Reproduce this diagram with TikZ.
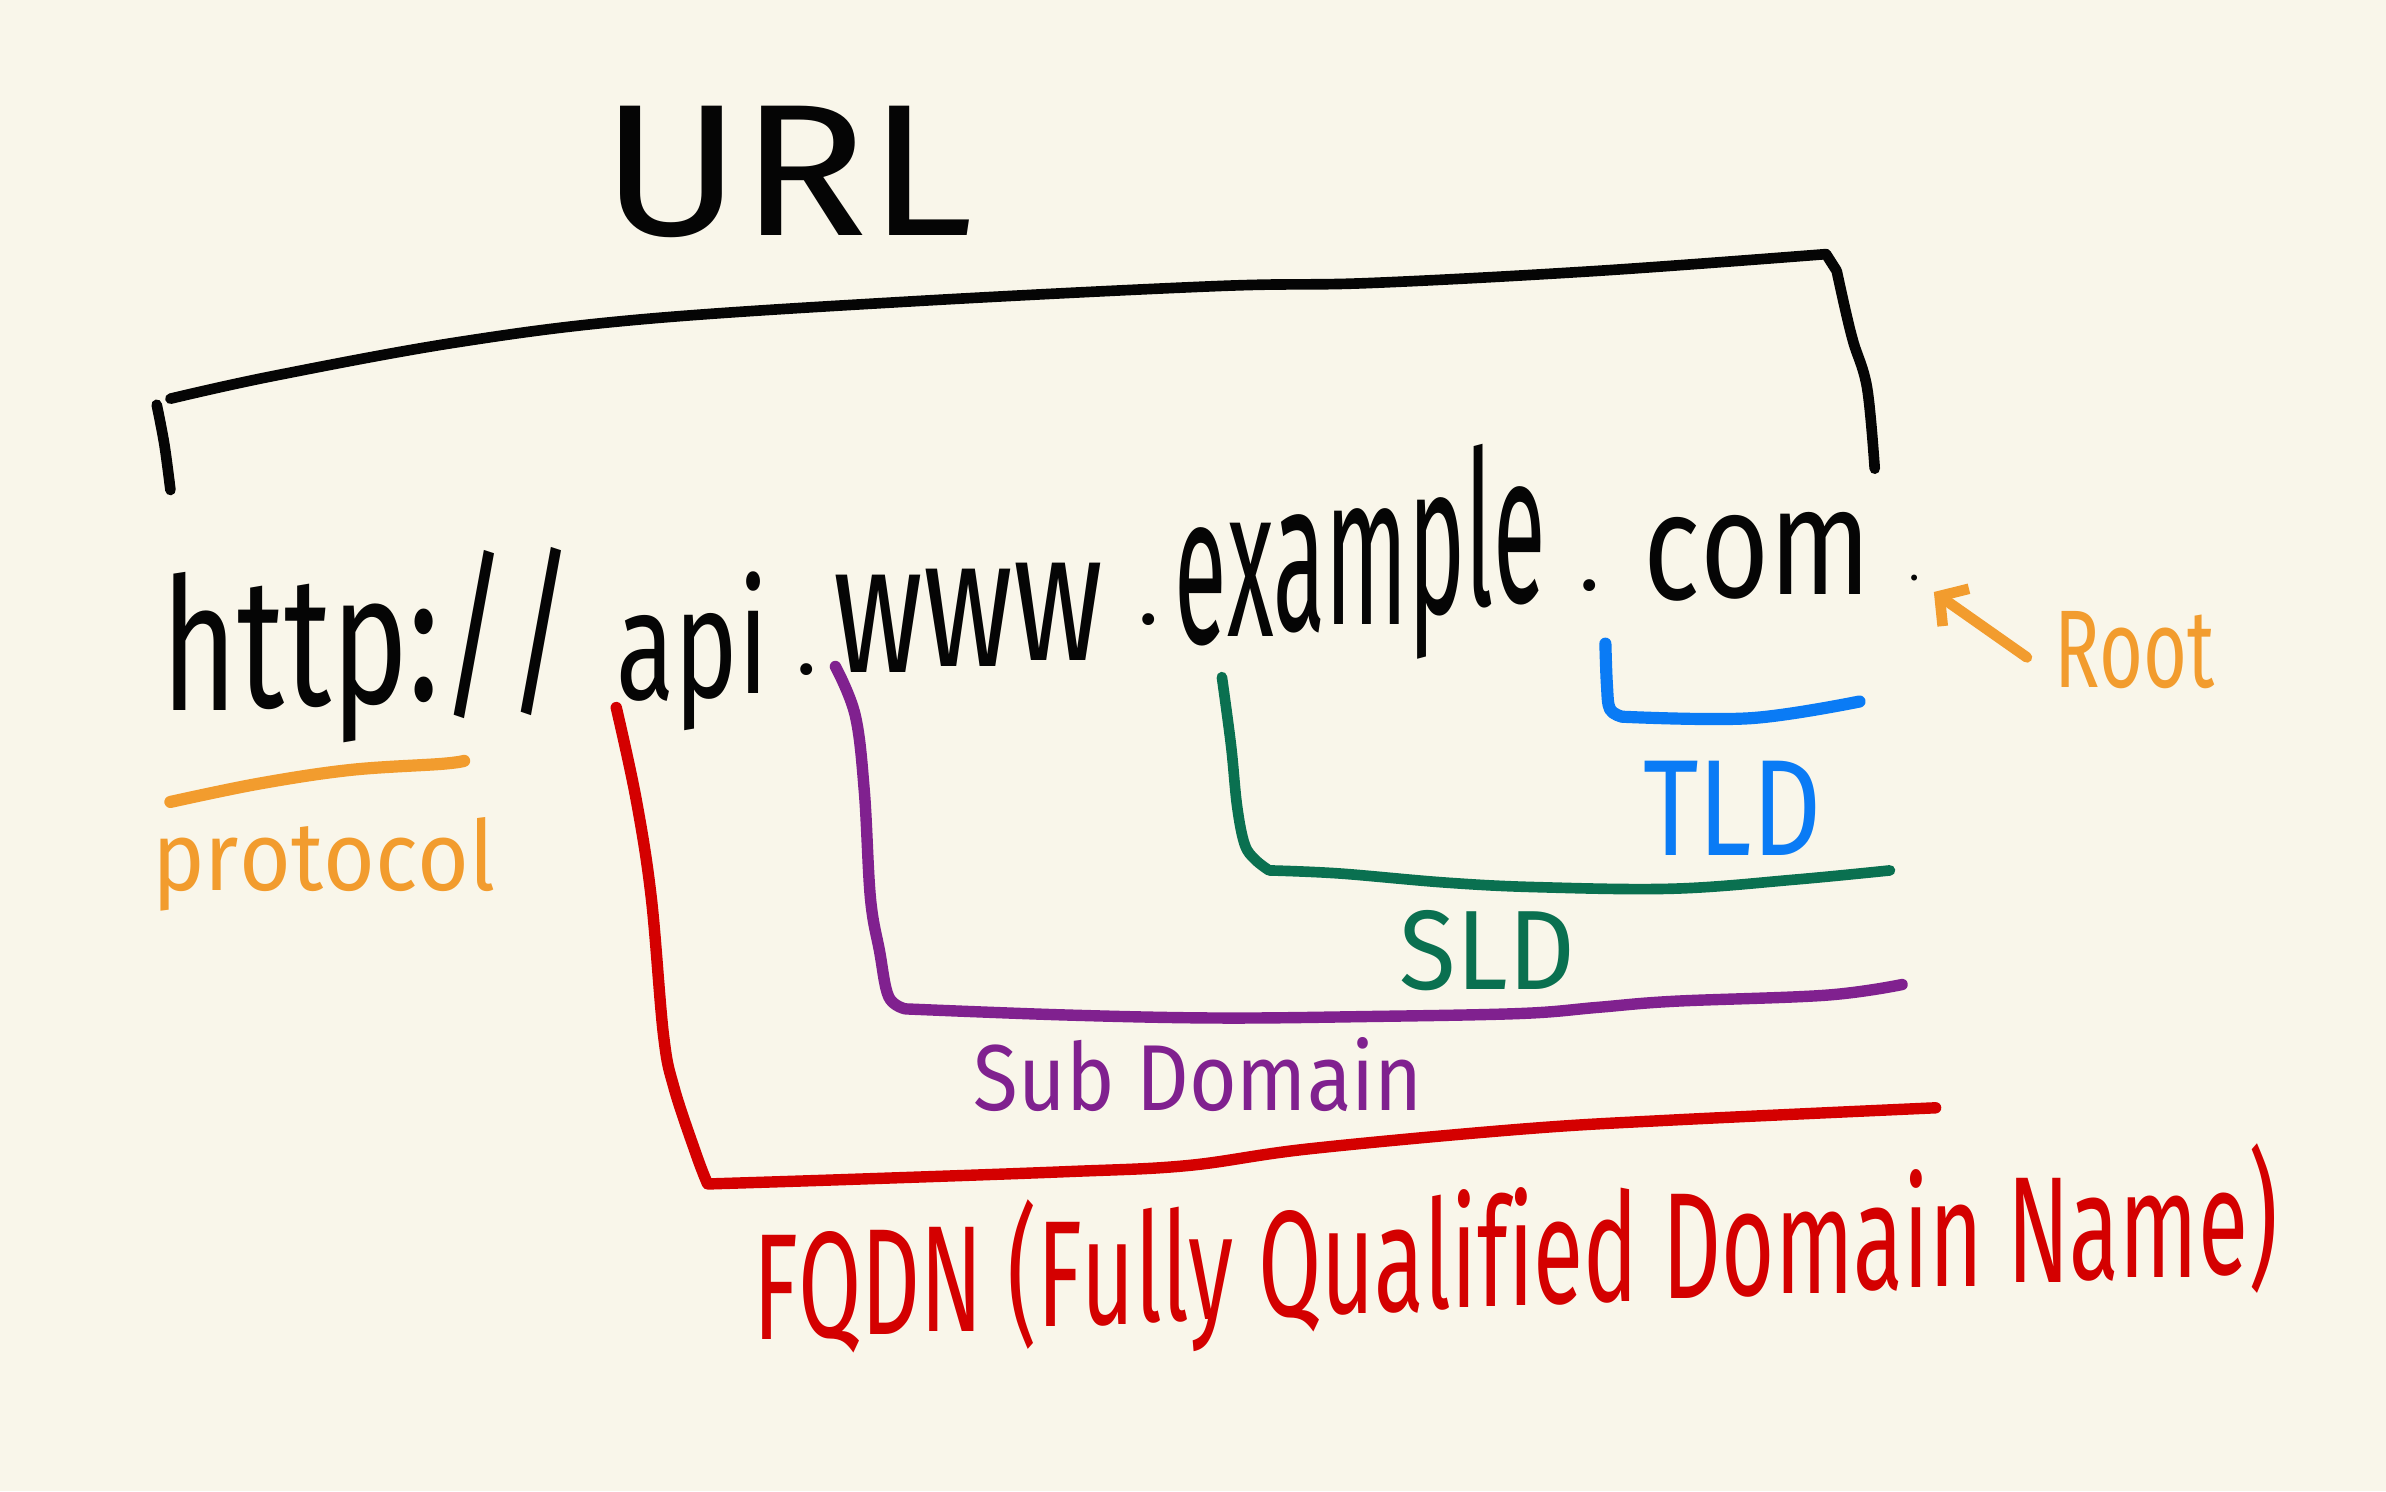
\documentclass[tikz,border=0pt]{standalone}
\usepackage{fontspec}
\setmainfont{Fira Sans}
\usetikzlibrary{arrows.meta}

\definecolor{paper}{HTML}{F9F6EA}
\definecolor{inkblack}{HTML}{050505}
\definecolor{inkorange}{HTML}{F29C2E}
\definecolor{inkred}{HTML}{D40000}
\definecolor{inkpurple}{HTML}{80218F}
\definecolor{inkgreen}{HTML}{0A7050}
\definecolor{inkblue}{HTML}{0A7BF5}

% \handtext{width}{height}{rise per pt}{text}: sets the text #1 pt wide and
% #2 pt tall (font size fixes the height, a stretched font the width), each
% letter upright but lifted a little more than the one before it.
\makeatletter
\newcommand\handtext[4]{%
  \begingroup
  \setbox0=\hbox{\fontsize{10}{12}\selectfont #4}%
  \pgfmathsetmacro\hwsize{#2/\the\ht0*10}%
  \pgfmathsetmacro\hwstretch{(#1/\the\wd0)/(#2/\the\ht0)}%
  \fontsize{\hwsize pt}{\hwsize pt}\selectfont
  \addfontfeature{FakeStretch=\hwstretch}%
  \dimen2=0pt
  \@tfor\hwchar:=#4\do{%
    \setbox2=\hbox{\hwchar}\dimen4=\wd2
    \raise#3\dimen2\box2
    \advance\dimen2 by\dimen4}%
  \endgroup}
\makeatother

\begin{document}
\begin{tikzpicture}[x=1pt,y=-1pt,
  pen/.style={line width=#1, line cap=round, line join=round},
  word/.style={anchor=base west, inner sep=0pt, outer sep=0pt},
  dotmark/.style={inner sep=0pt, outer sep=0pt, font=\fontsize{56}{56}\selectfont},
]
\fill[paper] (0,0) rectangle (1568,980);
\useasboundingbox (0,0) rectangle (1568,980);

% ---- the address itself ----
\begin{scope}[inkblack]
\node[word] (http) at (106,467) {\handtext{262}{98}{0.04}{http://}};
\node[word] (api) at (405,460) {\handtext{100}{80}{0.05}{api}};
\node[dotmark] (dota) at (530,440) {.};
\node[word] (www) at (548,442) {\handtext{177}{64}{0.07}{www}};
\node[dotmark] (dotb) at (755,407) {.};
\node[word] (example) at (772,423) {\handtext{242}{106}{0.13}{example}};
\node[dotmark] (dotc) at (1045,385) {.};
\node[word] (com) at (1080,394) {\handtext{148}{54}{0.04}{com}};
\node[inner sep=0pt, font=\fontsize{28}{28}\selectfont] (dotroot) at (1258,380) {.};
\end{scope}

% ---- URL bracket ----
\node[word, inkblack] (url) at (395,155) {\handtext{245}{85}{0}{URL}};
\draw[pen=7pt, inkblack] plot[smooth, tension=0.6] coordinates {(103,266) (108,292) (112,322)};
\draw[pen=7pt, inkblack] plot[smooth, tension=0.6] coordinates
  {(112,262) (180,247) (300,225) (420,210) (600,198) (800,188) (900,186) (1050,178) (1200,167)}
  -- (1207,178)
  plot[smooth, tension=0.6] coordinates {(1207,178) (1213,205) (1218,225) (1227,255) (1232,308)};

% ---- protocol ----
\draw[pen=8pt, inkorange] plot[smooth, tension=0.6] coordinates
  {(112,527) (170,515) (230,506) (290,502) (305,500)};
\node[word, inkorange] (protocol) at (100,585) {\handtext{222}{48}{0}{protocol}};

% ---- FQDN ----
\draw[pen=7.5pt, inkred] plot[smooth, tension=0.6] coordinates
  {(405,465) (418,525) (428,590) (436,680) (443,715) (458,760) (465,778)}
  -- (467,778)
  plot[smooth, tension=0.6] coordinates
  {(467,778) (560,775) (700,770) (780,766) (860,755) (1000,742) (1100,736) (1272,728)};
\node[word, inkred] (fqdn) at (495,880) {\handtext{995}{84}{0.045}{FQDN~(Fully~Qualified~Domain~Name)}};

% ---- Sub Domain ----
\draw[pen=7.5pt, inkpurple] plot[smooth, tension=0.6] coordinates
  {(549,438) (562,470) (568,520) (572,590) (578,625) (584,655) (595,663)}
  plot[smooth, tension=0.6] coordinates
  {(595,663) (700,667) (800,669) (900,668) (1000,666) (1050,662) (1100,658) (1200,654) (1250,647)};
\node[word, inkpurple] (sub) at (640,730) {\handtext{295}{48}{0}{Sub~Domain}};

% ---- SLD ----
\draw[pen=7pt, inkgreen] plot[smooth, tension=0.6] coordinates
  {(803,445) (809,490) (813,530) (818,555) (825,565) (834,572)}
  plot[smooth, tension=0.6] coordinates
  {(834,572) (880,574) (950,580) (1010,583) (1100,584) (1180,578) (1242,572)};
\node[word, inkgreen] (sld) at (920,650) {\handtext{115}{52}{0}{SLD}};

% ---- TLD ----
\draw[pen=8pt, inkblue] plot[smooth, tension=0.6] coordinates
  {(1055,423) (1056,450) (1058,466) (1066,471)}
  plot[smooth, tension=0.6] coordinates
  {(1066,471) (1150,472) (1222,461)};
\node[word, inkblue] (tld) at (1080,562) {\handtext{117}{62}{0}{TLD}};

% ---- Root ----
\node[word, inkorange] (root) at (1350,452) {\handtext{105}{50}{0}{Root}};
\coordinate (roottail) at (1332,432);
\draw[pen=7pt, inkorange, shorten >=12pt, -{Straight Barb[length=13pt, width=30pt, line width=7pt]}]
  (roottail) -- (dotroot);
\end{tikzpicture}
\end{document}
